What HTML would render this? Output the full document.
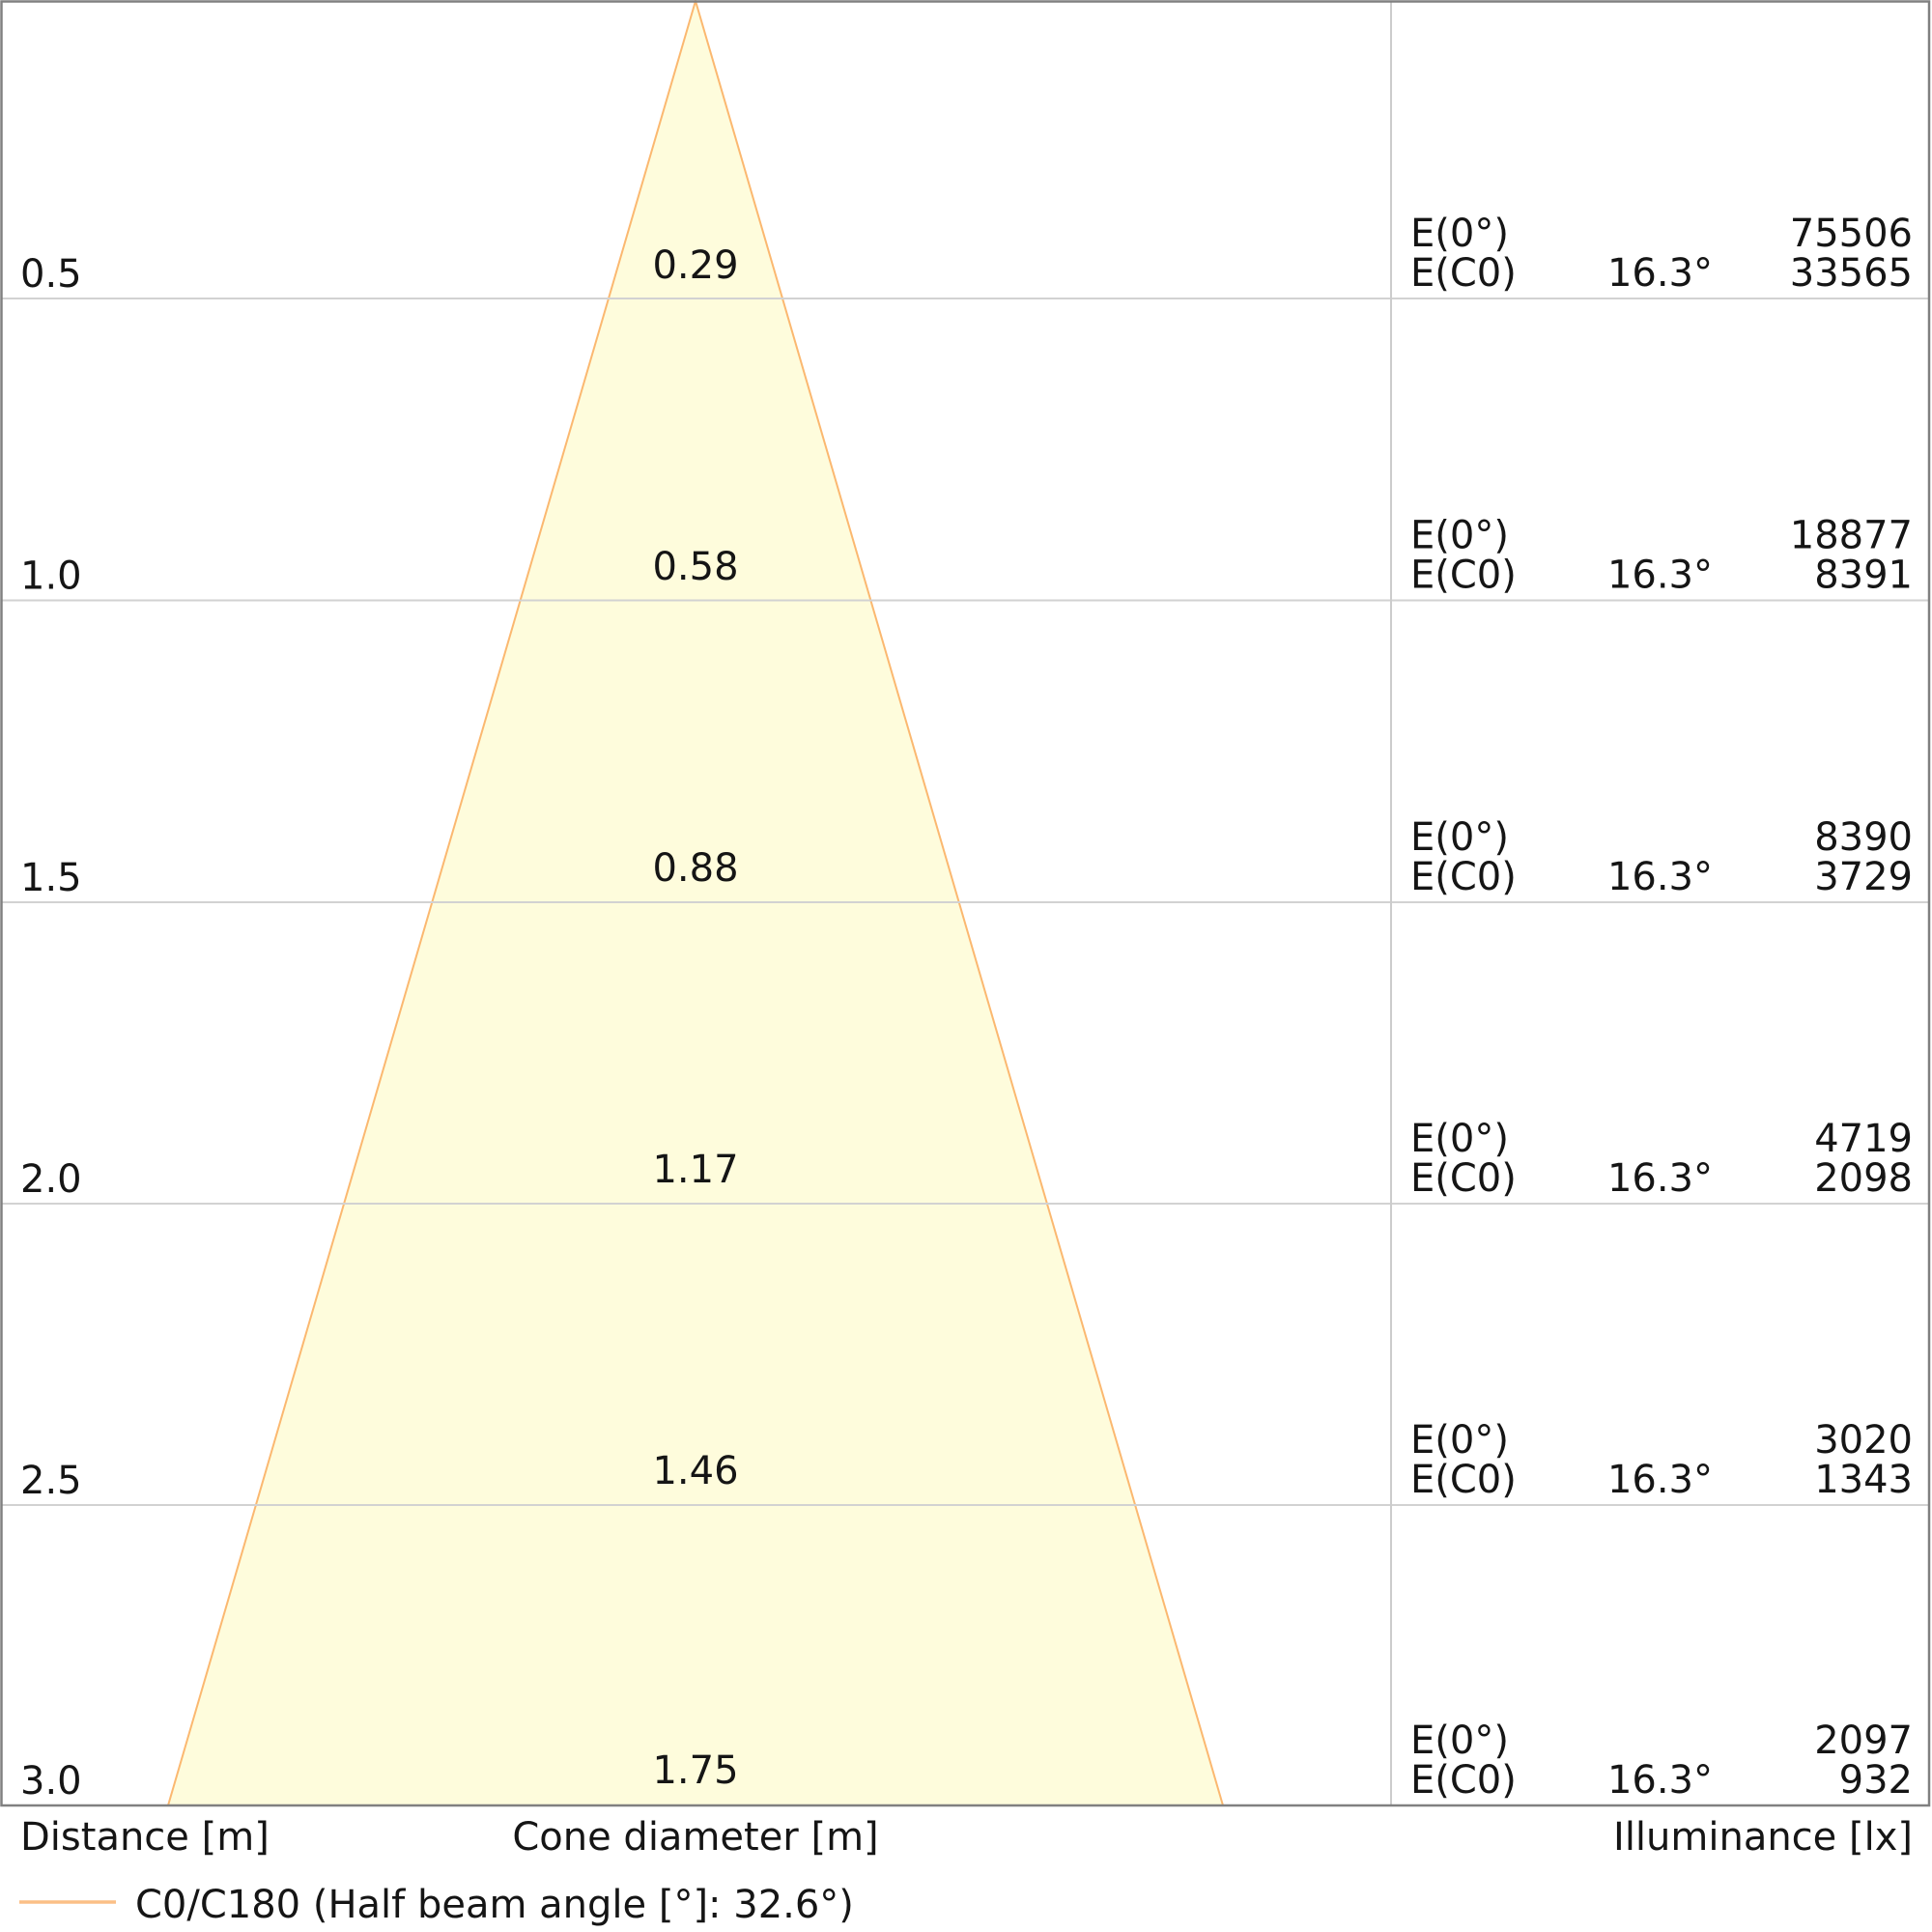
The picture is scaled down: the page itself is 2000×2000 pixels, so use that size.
<!DOCTYPE html>
<html>
<head>
<meta charset="utf-8">
<style>
html,body{margin:0;padding:0;background:#fff;}
svg{display:block;}
text{font-family:"DejaVu Sans","Liberation Sans",sans-serif;font-size:40px;fill:#151515;}
</style>
</head>
<body>
<svg width="2000" height="2000" viewBox="0 0 2000 2000" xmlns="http://www.w3.org/2000/svg">
<rect x="0" y="0" width="2000" height="2000" fill="#fff"/>
<!-- cone -->
<polygon points="720,1 174,1869 1266,1869" fill="#fefcdc" stroke="#fbb870" stroke-width="2"/>
<!-- gridlines -->
<g stroke="#d2d2d2" stroke-width="2">
<line x1="1" y1="309" x2="1997" y2="309"/>
<line x1="1" y1="621.5" x2="1997" y2="621.5"/>
<line x1="1" y1="934" x2="1997" y2="934"/>
<line x1="1" y1="1246" x2="1997" y2="1246"/>
<line x1="1" y1="1558" x2="1997" y2="1558"/>
</g>
<line x1="1440" y1="1" x2="1440" y2="1869" stroke="#cccccc" stroke-width="2"/>
<!-- frame -->
<rect x="1.5" y="1.5" width="1995.5" height="1867.5" fill="none" stroke="#808080" stroke-width="2.5"/>

<!-- left distance labels -->
<text x="21" y="297">0.5</text>
<text x="21" y="609.5">1.0</text>
<text x="21" y="922">1.5</text>
<text x="21" y="1234">2.0</text>
<text x="21" y="1546">2.5</text>
<text x="21" y="1857">3.0</text>

<!-- cone diameter labels -->
<g text-anchor="middle">
<text x="720" y="288">0.29</text>
<text x="720" y="600">0.58</text>
<text x="720" y="912">0.88</text>
<text x="720" y="1224">1.17</text>
<text x="720" y="1536">1.46</text>
<text x="720" y="1846">1.75</text>
</g>

<!-- right illuminance labels -->
<g>
<text x="1460" y="255">E(0°)</text><text x="1460" y="296">E(C0)</text>
<text x="1460" y="567.5">E(0°)</text><text x="1460" y="608.5">E(C0)</text>
<text x="1460" y="880">E(0°)</text><text x="1460" y="921">E(C0)</text>
<text x="1460" y="1192">E(0°)</text><text x="1460" y="1233">E(C0)</text>
<text x="1460" y="1504">E(0°)</text><text x="1460" y="1545">E(C0)</text>
<text x="1460" y="1815">E(0°)</text><text x="1460" y="1856">E(C0)</text>
</g>
<g text-anchor="end">
<text x="1773" y="296">16.3°</text>
<text x="1773" y="608.5">16.3°</text>
<text x="1773" y="921">16.3°</text>
<text x="1773" y="1233">16.3°</text>
<text x="1773" y="1545">16.3°</text>
<text x="1773" y="1856">16.3°</text>

<text x="1980" y="255">75506</text><text x="1980" y="296">33565</text>
<text x="1980" y="567.5">18877</text><text x="1980" y="608.5">8391</text>
<text x="1980" y="880">8390</text><text x="1980" y="921">3729</text>
<text x="1980" y="1192">4719</text><text x="1980" y="1233">2098</text>
<text x="1980" y="1504">3020</text><text x="1980" y="1545">1343</text>
<text x="1980" y="1815">2097</text><text x="1980" y="1856">932</text>
</g>

<!-- axis titles -->
<text x="21" y="1915">Distance [m]</text>
<text x="720" y="1915" text-anchor="middle">Cone diameter [m]</text>
<text x="1980" y="1915" text-anchor="end">Illuminance [lx]</text>

<!-- legend -->
<line x1="20" y1="1969" x2="120" y2="1969" stroke="#fbbf86" stroke-width="3.5"/>
<text x="140" y="1985">C0/C180 (Half beam angle [°]: 32.6°)</text>
</svg>
</body>
</html>
